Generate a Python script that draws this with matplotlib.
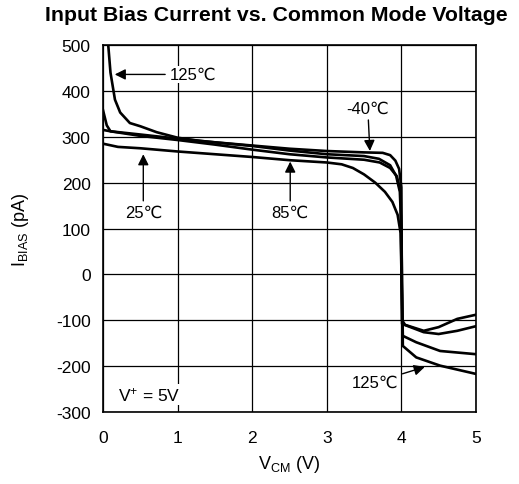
import matplotlib
matplotlib.use("Agg")
import matplotlib.pyplot as plt

plt.rcParams['font.family'] = ['Liberation Sans', 'DejaVu Sans']
plt.rcParams['mathtext.fontset'] = 'custom'
plt.rcParams['mathtext.rm'] = 'Liberation Sans'
plt.rcParams['mathtext.it'] = 'Liberation Sans:italic'
plt.rcParams['axes.unicode_minus'] = False

# curves (VCM in V, IBIAS in pA)
x_m40 = [0, 0.1, 0.5, 1, 1.5, 2, 2.5, 3, 3.5, 3.75, 3.85, 3.92, 3.97, 4.0, 4.01, 4.05, 4.3, 4.5, 4.75, 5]
y_m40 = [315, 312, 305, 296, 288, 281, 274, 269, 266, 265, 260, 248, 230, 190, -100, -110, -123, -115, -97, -88]

x_85 = [0, 0.05, 0.1, 0.5, 1, 1.5, 2, 2.5, 3, 3.5, 3.71, 3.85, 3.94, 3.99, 4.01, 4.3, 4.5, 4.75, 5]
y_85 = [358, 325, 312, 302, 293, 283, 272, 262, 255, 250, 244, 232, 214, 180, -108, -126, -130, -123, -113]

x_25 = [0, 0.2, 0.5, 1, 1.5, 2, 2.5, 3, 3.2, 3.35, 3.5, 3.65, 3.78, 3.88, 3.95, 3.99, 4.02, 4.2, 4.52, 5]
y_25 = [285, 278, 275, 268, 262, 256, 249, 244, 240, 232, 218, 200, 180, 158, 130, 90, -134, -148, -167, -174]

x_125 = [0.06, 0.1, 0.16, 0.23, 0.36, 0.5, 0.72, 1.0, 1.3, 2, 2.5, 3, 3.5, 3.7, 3.85, 3.93, 3.98, 4.0, 4.02, 4.2, 4.52, 5]
y_125 = [520, 440, 381, 353, 330, 323, 310, 298, 291, 280, 270, 262, 258, 252, 238, 215, 180, 100, -156, -181, -199, -217]

xticks = [0, 1, 2, 3, 4, 5]
yticks = [-300, -200, -100, 0, 100, 200, 300, 400, 500]

fig = plt.figure(figsize=(5.19, 4.85), dpi=100)
ax = fig.add_axes([0.1985, 0.1485, 0.7185, 0.7565])

for xs, ys in [(x_m40, y_m40), (x_85, y_85), (x_25, y_25), (x_125, y_125)]:
    ax.plot(xs, ys, color='black', lw=1.9, solid_joinstyle='round', zorder=3)

ax.set_xlim(0, 5)
ax.set_ylim(-300, 500)
ax.set_xticks(xticks)
ax.set_yticks(yticks)
ax.tick_params(axis='x', length=0, labelsize=12.5, pad=13)
ax.tick_params(axis='y', length=0, labelsize=12.5, pad=9)
ax.grid(True, color='black', lw=0.9)
for s in ax.spines.values():
    s.set_linewidth(1.2)

ax.set_title('Input Bias Current vs. Common Mode Voltage', fontsize=15.3,
             fontweight='bold', pad=18, x=0.466)
ax.set_xlabel(r'V$_{\mathrm{CM}}$ (V)', fontsize=13, labelpad=6)
ax.set_ylabel(r'I$_{\mathrm{BIAS}}$ (pA)', fontsize=13, labelpad=18)

arrow = dict(arrowstyle='-|>', color='black', lw=1, mutation_scale=16)
box = dict(facecolor='white', edgecolor='none', pad=1)

ax.annotate('125℃', xy=(0.12, 436), xytext=(1.2, 436), fontsize=12,
            va='center', ha='center', arrowprops=arrow, bbox=box, zorder=4)
ax.annotate('-40℃', xy=(3.58, 263), xytext=(3.55, 362), fontsize=12,
            va='center', ha='center', arrowprops=arrow, bbox=box, zorder=4)
ax.annotate('25℃', xy=(0.54, 268), xytext=(0.54, 135), fontsize=12,
            va='center', ha='center', arrowprops=arrow, bbox=box, zorder=4)
ax.annotate('85℃', xy=(2.51, 252), xytext=(2.51, 135), fontsize=12,
            va='center', ha='center', arrowprops=arrow, bbox=box, zorder=4)
ax.annotate('125℃', xy=(4.35, -200), xytext=(3.65, -235), fontsize=12,
            va='center', ha='center', arrowprops=arrow, bbox=box, zorder=4)
ax.text(0.2, -262, r'V$^{+}$ = 5V', fontsize=12.5, va='center', ha='left',
        bbox=box, zorder=4)

fig.savefig('out.png', dpi=100)
